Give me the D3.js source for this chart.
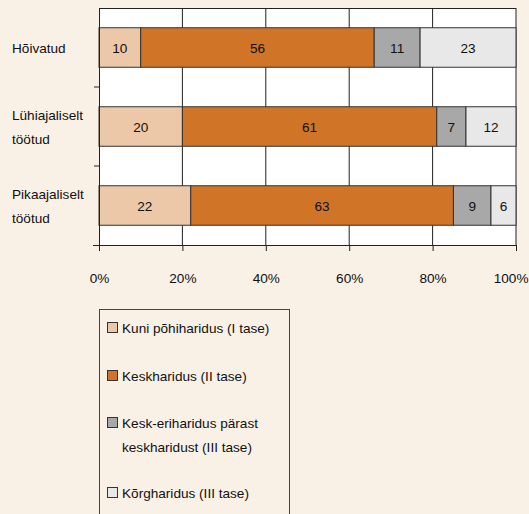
<!DOCTYPE html>
<html>
<head>
<meta charset="utf-8">
<script src="https://cdn.jsdelivr.net/npm/d3@7"></script>
<style>
  body { margin: 0; background: #f9f0e6; }
  text { font-family: "Liberation Sans", Arial, sans-serif; font-size: 13.6px; fill: #111; }
</style>
</head>
<body>
<script>
// Data
var groups = ["Hõivatud", "Lühiajaliselt töötud", "Pikaajaliselt töötud"];
var groupLines = [["Hõivatud"], ["Lühiajaliselt", "töötud"], ["Pikaajaliselt", "töötud"]];
var levels = ["Kuni põhiharidus (I tase)", "Keskharidus (II tase)",
              "Kesk-eriharidus pärast keskharidust (III tase)", "Kõrgharidus (III tase)"];
var legendLines = [["Kuni põhiharidus (I tase)"], ["Keskharidus (II tase)"],
                   ["Kesk-eriharidus pärast", "keskharidust (III tase)"], ["Kõrgharidus (III tase)"]];
var basic = [10, 20, 22];
var secondary = [56, 61, 63];
var vocational = [11, 7, 9];
var higher = [23, 12, 6];
var xTicks = [0, 20, 40, 60, 80, 100];
var colors = ["#edc8a8", "#d07428", "#a8a8a8", "#e8e8e8"];

var width = 529, height = 514;
var margin = {left: 99, right: 13, top: 8, bottom: 269};

var svg = d3.select("body").append("svg").attr("width", width).attr("height", height);

var x = d3.scaleLinear().domain([0, 100]).range([margin.left, width - margin.right]);
var y = d3.scaleBand().domain(groups).range([margin.top, height - margin.bottom]).paddingInner(0.5).paddingOuter(0.25);

// plot background
svg.append("rect")
    .attr("x", x(0)).attr("y", margin.top)
    .attr("width", x(100) - x(0)).attr("height", height - margin.bottom - margin.top)
    .attr("fill", "#fff");

// vertical grid
svg.selectAll("line.grid").data(xTicks.slice(1)).enter().append("line")
    .attr("class", "grid")
    .attr("x1", function(d) { return x(d); }).attr("x2", function(d) { return x(d); })
    .attr("y1", margin.top).attr("y2", height - margin.bottom)
    .attr("stroke", "#222").attr("stroke-width", 1);
svg.append("line")
    .attr("x1", x(0)).attr("x2", x(100))
    .attr("y1", margin.top + 0.5).attr("y2", margin.top + 0.5)
    .attr("stroke", "#222");

// stacked data
var table = groups.map(function(g, i) {
    return {group: g, v0: basic[i], v1: secondary[i], v2: vocational[i], v3: higher[i]};
});
var stack = d3.stack().keys(["v0", "v1", "v2", "v3"]);
var series = stack(table);

var layers = svg.selectAll("g.layer").data(series).enter().append("g")
    .attr("class", "layer")
    .attr("fill", function(d, i) { return colors[i]; });

layers.selectAll("rect").data(function(d) { return d; }).enter().append("rect")
    .attr("x", function(d) { return x(d[0]); })
    .attr("y", function(d) { return y(d.data.group); })
    .attr("width", function(d) { return x(d[1]) - x(d[0]); })
    .attr("height", y.bandwidth())
    .attr("stroke", "#333").attr("stroke-width", 1);

layers.selectAll("text").data(function(d) { return d; }).enter().append("text")
    .attr("x", function(d) { return (x(d[0]) + x(d[1])) / 2; })
    .attr("y", function(d) { return y(d.data.group) + y.bandwidth() / 2 + 5; })
    .attr("text-anchor", "middle")
    .text(function(d) { return d[1] - d[0]; });

// axes
svg.append("g")
    .attr("transform", "translate(0," + (height - margin.bottom) + ")")
    .call(d3.axisBottom(x).tickValues(xTicks).tickSize(6).tickPadding(22)
        .tickFormat(function(d) { return d + "%"; }))
    .call(function(g) {
        g.select(".domain").attr("stroke", "#222").attr("d", "M" + (x(0) - 6) + ",0.5H" + x(100));
        g.selectAll(".tick line").attr("stroke", "#222");
        g.selectAll("text").attr("font-size", 13.6).attr("font-family", "Liberation Sans, Arial, sans-serif").attr("fill", "#111");
        // last label sits against the right edge
        g.selectAll(".tick:last-of-type text").attr("text-anchor", "end").attr("x", width - margin.right - x(100) + 12);
    });

var yEdges = [margin.top, margin.top + y.step() * 1.0, margin.top + y.step() * 2.0, height - margin.bottom];
svg.append("line")
    .attr("x1", x(0) + 0.5).attr("x2", x(0) + 0.5)
    .attr("y1", margin.top).attr("y2", height - margin.bottom)
    .attr("stroke", "#222");
svg.selectAll("line.ytick").data(yEdges.slice(1, 3)).enter().append("line")
    .attr("class", "ytick")
    .attr("x1", x(0) - 5).attr("x2", x(0))
    .attr("y1", function(d) { return d; }).attr("y2", function(d) { return d; })
    .attr("stroke", "#222");

// category labels
groupLines.forEach(function(lines, i) {
    var cy = y(groups[i]) + y.bandwidth() / 2;
    var t = svg.append("text").attr("x", 12)
        .attr("y", cy - (lines.length - 1) * 12 + 5);
    lines.forEach(function(l, j) {
        t.append("tspan").attr("x", 12).attr("dy", j === 0 ? 0 : 24).text(l);
    });
});

// legend
var legend = svg.append("g");
legend.append("rect")
    .attr("x", 99.5).attr("y", 309.5).attr("width", 190).attr("height", 220)
    .attr("fill", "none").attr("stroke", "#444");
var itemY = [328, 376, 423, 493];
legendLines.forEach(function(lines, i) {
    legend.append("rect")
        .attr("x", 107.5).attr("y", itemY[i] - 5.5).attr("width", 10).attr("height", 10)
        .attr("fill", colors[i]).attr("stroke", "#333");
    lines.forEach(function(l, j) {
        legend.append("text").attr("x", 122).attr("y", itemY[i] + 5 + j * 24).text(l);
    });
});
</script>
</body>
</html>
